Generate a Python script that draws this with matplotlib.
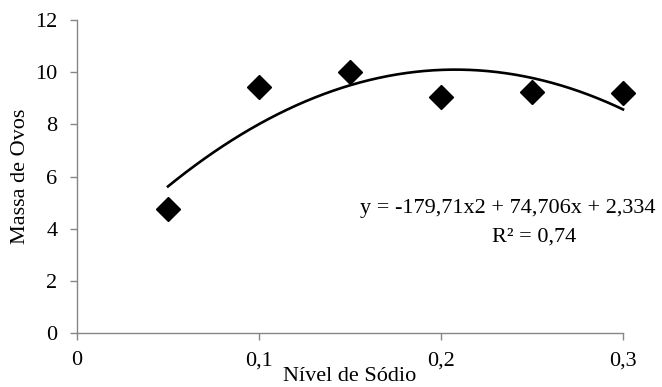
import matplotlib
matplotlib.use("Agg")
import matplotlib.pyplot as plt
import numpy as np
from matplotlib.ticker import FuncFormatter

plt.rcParams['font.family'] = ['Liberation Serif', 'DejaVu Serif']

nivel = [0.05, 0.10, 0.15, 0.20, 0.25, 0.30]
massa = [4.75, 9.45, 10.0, 9.05, 9.25, 9.2]
coef = [-179.71, 74.706, 2.334]  # trendline coefficients shown on chart
x_ticks = [0, 0.1, 0.2, 0.3]
y_ticks = [0, 2, 4, 6, 8, 10, 12]

fig = plt.figure(figsize=(6.62, 3.87), dpi=100)
ax = fig.add_axes([77/662, 1-333/387, (623-77)/662, (333-20)/387])

xf = np.linspace(min(nivel), max(nivel), 200)
ax.plot(xf, np.polyval(coef, xf), color='black', lw=1.9, zorder=2, clip_on=False)
ax.plot(nivel, massa, linestyle='none', marker='D', ms=12, color='black', zorder=3, clip_on=False)

ax.set_xlim(0, 0.3)
ax.set_ylim(0, 12)
ax.set_xticks(x_ticks)
ax.set_yticks(y_ticks)
fmt = lambda v, p: ('%g' % v).replace('.', ',')
ax.xaxis.set_major_formatter(FuncFormatter(fmt))
for s in ['top', 'right']:
    ax.spines[s].set_visible(False)
for s in ['left', 'bottom']:
    ax.spines[s].set_color('#868686')
    ax.spines[s].set_linewidth(1.0)
ax.tick_params(direction='out', length=5, width=1, color='#868686', labelsize=16, labelcolor='black')
ax.tick_params(axis='x', pad=8)
ax.tick_params(axis='y', pad=9)
ax.set_xlabel('Nível de Sódio', fontsize=16, labelpad=-2)
ax.set_ylabel('Massa de Ovos', fontsize=16, labelpad=4)

fig.text(655/662, 1-208/387, 'y = -179,71x2 + 74,706x + 2,334', ha='right', va='center', fontsize=16)
fig.text(534/662, 1-237/387, 'R² = 0,74', ha='center', va='center', fontsize=16)

fig.savefig('out.png', dpi=100)
